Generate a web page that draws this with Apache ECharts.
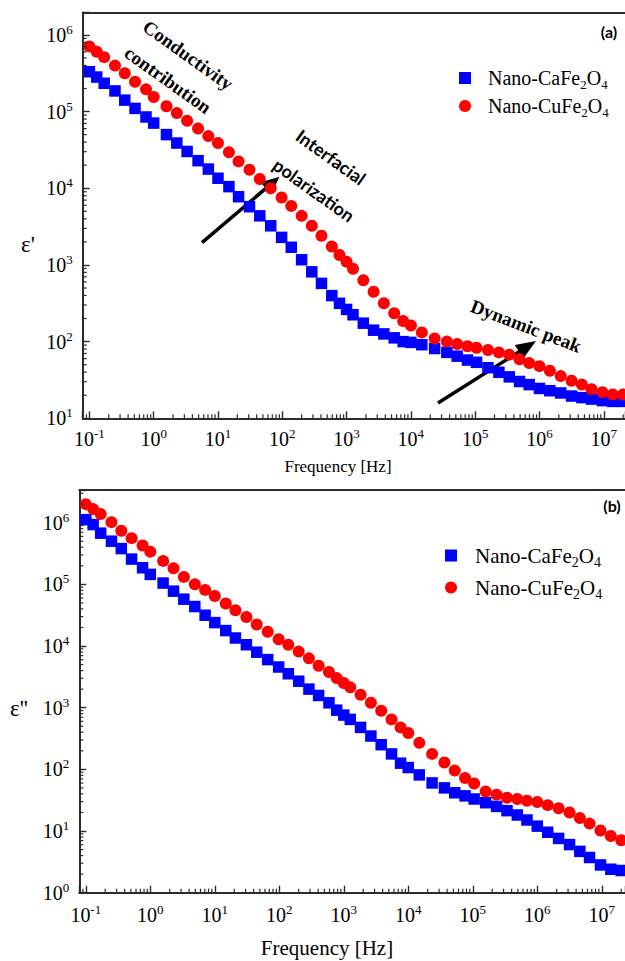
<!DOCTYPE html>
<html>
<head>
<meta charset="utf-8">
<script src="https://cdn.jsdelivr.net/npm/echarts@6/dist/echarts.min.js"></script>
<style>
  html, body { margin: 0; padding: 0; background: #fff; }
  #chart { width: 625px; height: 961px; }
</style>
</head>
<body>
<div id="chart"></div>
<script>
// Measurement frequencies (Hz)
const frequency = [0.1, 0.13, 0.17, 0.25, 0.355, 0.513, 0.759, 1, 1.58, 2.29, 3.31, 4.9, 7.08, 10,
  14.8, 20.9, 30.9, 44.7, 66.1, 97.7, 138, 200, 288, 407, 589, 776, 1000, 1260,
  1820, 2630, 3800, 5500, 7590, 10000, 14800, 23400, 36300, 52500, 75900, 105000,
  158000, 234000, 339000, 490000, 692000, 1000000, 1450000, 2140000, 3160000, 4570000,
  6460000, 9550000, 13800000, 20000000];

// Real permittivity ε'
const realCaFe2O4 = [331000, 282000, 234000, 186000, 141000, 110000, 85100, 70800, 50100, 38900,
  30200, 22900, 17800, 13500, 10500, 7760, 5750, 4370, 3240, 2290, 1700, 1170, 813, 575, 398,
  316, 263, 224, 174, 141, 126, 112, 100, 97.7, 91.2, 81.3, 72.4, 64.6, 57.5, 53.7, 45.7, 39.8,
  34.7, 30.2, 27.5, 24.5, 22.9, 21.4, 19.5, 18.6, 17.8, 17.0, 16.6, 16.6];
const realCuFe2O4 = [708000, 603000, 513000, 398000, 316000, 245000, 195000, 155000, 117500, 95500,
  75900, 60300, 47900, 38900, 29500, 22400, 17400, 13200, 10000, 7590, 5890, 4370, 3240, 2400,
  1740, 1350, 1100, 891, 631, 447, 316, 234, 186, 162, 132, 110, 100, 93.3, 87.1, 83.2, 77.6,
  72.4, 67.6, 58.9, 52.5, 47.9, 41.7, 35.5, 30.9, 27.5, 24.0, 21.9, 20.4, 20.4];

// Dielectric loss ε''
const lossCaFe2O4 = [1120000, 933000, 676000, 501000, 380000, 257000, 186000, 145000, 105000, 77600,
  57500, 43700, 31600, 24000, 17800, 13500, 10500, 7940, 6030, 4570, 3550, 2690, 2000, 1580,
  1200, 912, 759, 646, 479, 347, 251, 178, 126, 107, 81.3, 60.3, 50.1, 41.7, 37.2, 33.1, 28.8,
  25.1, 21.4, 18.2, 15.1, 12.0, 9.55, 7.59, 6.03, 4.68, 3.72, 2.82, 2.40, 2.29];
const lossCuFe2O4 = [2000000, 1660000, 1380000, 1020000, 741000, 562000, 427000, 339000, 240000, 182000,
  132000, 100000, 81300, 64600, 49000, 38000, 29500, 22400, 17000, 12900, 10500, 8130, 6310,
  4790, 3800, 3020, 2510, 2140, 1620, 1200, 891, 646, 479, 389, 269, 178, 129, 95.5, 72.4, 58.9,
  43.7, 38.9, 34.7, 33.1, 30.9, 29.5, 26.3, 23.4, 20.0, 16.2, 13.2, 10.2, 8.32, 7.08];

// Decade exponents that carry tick labels
const xDecades = [-1, 0, 1, 2, 3, 4, 5, 6, 7];
const yDecadesA = [1, 2, 3, 4, 5, 6];
const yDecadesB = [0, 1, 2, 3, 4, 5, 6];

const seriesNames = ['Nano-CaFe2O4', 'Nano-CuFe2O4'];

const SERIF = 'Liberation Serif';
const SANS = 'Lato';
const AXIS_COLOR = '#2b2b2b';

const ranges = {
  a: { xMin: 0.0787, xMax: 2.14e7, yMin: 10, yMax: 1.96e6 },
  b: { xMin: 0.0793, xMax: 2.29e7, yMin: 1, yMax: 3.39e6 }
};

function decadeFormatter(decades) {
  return function (value) {
    const lg = Math.log10(value);
    const e = Math.round(lg);
    if (Math.abs(lg - e) > 1e-6 || decades.indexOf(e) < 0) return '';
    return '{b|10}{e|' + e + '}';
  };
}

const tickRich = {
  b: { fontFamily: SERIF, fontSize: 20, lineHeight: 24, color: '#000' },
  e: { fontFamily: SERIF, fontSize: 13, lineHeight: 12, verticalAlign: 'top', color: '#000' }
};

function chemLabel(name) {
  return name.replace(/(\D+)(\d)(\D+)(\d)/, '{t|$1}{s|$2}{t|$3}{s|$4}');
}

function xAxes(grid, r, decades, margin) {
  return [{
    gridIndex: grid, type: 'log', logBase: 10, min: r.xMin, max: r.xMax, position: 'bottom',
    axisLine: { show: true, lineStyle: { color: AXIS_COLOR, width: 2 } },
    axisTick: { show: true, inside: true, length: 7, lineStyle: { color: AXIS_COLOR, width: 1.4 } },
    axisLabel: { formatter: decadeFormatter(decades), margin: margin, rich: tickRich, hideOverlap: false },
    splitLine: { show: false }, minorTick: { show: false }
  }, {
    gridIndex: grid, type: 'log', logBase: 10, min: r.xMin, max: r.xMax, position: 'top',
    axisLine: { show: true, lineStyle: { color: AXIS_COLOR, width: 2 } },
    axisTick: { show: false }, axisLabel: { show: false }, splitLine: { show: false }
  }];
}

function yAxis(grid, r, decades) {
  return {
    gridIndex: grid, type: 'log', logBase: 10, min: r.yMin, max: r.yMax, position: 'left',
    axisLine: { show: true, lineStyle: { color: AXIS_COLOR, width: 2 } },
    axisTick: { show: true, inside: true, length: 7, lineStyle: { color: AXIS_COLOR, width: 1.4 } },
    axisLabel: { formatter: decadeFormatter(decades), margin: 10, rich: tickRich, hideOverlap: false },
    splitLine: { show: false }
  };
}

// Values 2..9 × 10^k inside [lo, hi] for the short log ticks
function minorValues(lo, hi) {
  const out = [];
  for (let d = Math.floor(Math.log10(lo)); d <= Math.ceil(Math.log10(hi)); d++) {
    for (let k = 2; k <= 9; k++) {
      const v = k * Math.pow(10, d);
      if (v > lo && v < hi) out.push(v);
    }
  }
  return out;
}

function minorTickSeries(xIdx, yIdx, r) {
  const xs = minorValues(r.xMin, r.xMax).map(v => [v, r.yMin, 0]);
  const ys = minorValues(r.yMin, r.yMax).map(v => [r.xMin, v, 1]);
  return {
    type: 'custom', xAxisIndex: xIdx, yAxisIndex: yIdx, silent: true, z: 5, clip: false,
    data: xs.concat(ys),
    renderItem: function (params, api) {
      const p = api.coord([api.value(0), api.value(1)]);
      const vertical = api.value(2) === 0;
      return {
        type: 'line',
        shape: vertical
          ? { x1: p[0], y1: p[1], x2: p[0], y2: p[1] - 4 }
          : { x1: p[0], y1: p[1], x2: p[0] + 4, y2: p[1] },
        style: { stroke: AXIS_COLOR, lineWidth: 1.2 }
      };
    }
  };
}

function scatter(name, xIdx, yIdx, ys, shape, size, color) {
  return {
    name: name, type: 'scatter', xAxisIndex: xIdx, yAxisIndex: yIdx,
    symbol: shape, symbolSize: size,
    itemStyle: { color: color, opacity: 1 },
    data: frequency.map((f, i) => [f, ys[i]]),
    z: 3
  };
}

function arrow(x1, y1, x2, y2, headLen, headHalf) {
  const dx = x2 - x1, dy = y2 - y1;
  const len = Math.sqrt(dx * dx + dy * dy);
  const ux = dx / len, uy = dy / len;
  const bx = x2 - ux * headLen, by = y2 - uy * headLen;
  const nx = -uy, ny = ux;
  return {
    type: 'group',
    children: [
      { type: 'line', shape: { x1: x1, y1: y1, x2: bx + ux * 2, y2: by + uy * 2 },
        style: { stroke: '#000', lineWidth: 3.5 } },
      { type: 'polygon', shape: { points: [[x2, y2], [bx + nx * headHalf, by + ny * headHalf], [bx - nx * headHalf, by - ny * headHalf]] },
        style: { fill: '#000' } }
    ]
  };
}

function label(text, x, y, family, size, weight, deg) {
  return {
    type: 'text', x: x, y: y, rotation: -(deg || 0) * Math.PI / 180,
    style: {
      text: text, fontFamily: family, fontSize: size, fontWeight: weight,
      fill: '#000', textAlign: 'center', textVerticalAlign: 'middle'
    }
  };
}

function legendFor(left, top, gap, fontSize, pad) {
  return {
    orient: 'vertical', left: left, top: top, itemWidth: 12, itemHeight: 12, itemGap: gap,
    data: seriesNames, formatter: chemLabel, selectedMode: false,
    textStyle: {
      padding: [0, 0, 0, pad],
      rich: {
        t: { fontFamily: SERIF, fontSize: fontSize, lineHeight: fontSize + 6, color: '#000' },
        s: { fontFamily: SERIF, fontSize: Math.round(fontSize * 0.65), lineHeight: 12, verticalAlign: 'bottom', color: '#000' }
      }
    }
  };
}

const chart = echarts.init(document.getElementById('chart'), null, { renderer: 'svg' });

chart.setOption({
  animation: false,
  backgroundColor: '#fff',
  grid: [
    { left: 82.7, top: 12.5, width: 542.3, height: 405.8, outerBoundsMode: 'none', containLabel: false },
    { left: 79.3, top: 490, width: 545.7, height: 402.7, outerBoundsMode: 'none', containLabel: false }
  ],
  xAxis: xAxes(0, ranges.a, xDecades, 9).concat(xAxes(1, ranges.b, xDecades, 10)),
  yAxis: [yAxis(0, ranges.a, yDecadesA), yAxis(1, ranges.b, yDecadesB)],
  legend: [legendFor(454, 63, 5, 20, 12), legendFor(440, 540, 8, 21, 13)],
  series: [
    scatter(seriesNames[0], 0, 0, realCaFe2O4, 'rect', 11.5, '#0000ff'),
    scatter(seriesNames[1], 0, 0, realCuFe2O4, 'circle', 12, '#ff0000'),
    scatter(seriesNames[0], 2, 1, lossCaFe2O4, 'rect', 11.5, '#0000ff'),
    scatter(seriesNames[1], 2, 1, lossCuFe2O4, 'circle', 12, '#ff0000'),
    minorTickSeries(0, 0, ranges.a),
    minorTickSeries(2, 1, ranges.b)
  ],
  graphic: [
    label('Conductivity', 188, 55, SERIF, 19, 'bold', 35.5),
    label('contribution', 168, 80, SERIF, 19, 'bold', 35.5),
    label('Interfacial', 331, 157, SANS, 18, 'bold', 35.5),
    label('polarization', 314, 190, SANS, 18, 'bold', 35.5),
    label('Dynamic peak', 526, 326, SERIF, 19, 'bold', 21),
    label('(a)', 609, 31, SANS, 16, 'bold', 0),
    label('(b)', 612, 505, SANS, 16, 'bold', 0),
    label("ε'", 28, 244, SERIF, 23, 'normal', 0),
    label("ε''", 19, 708, SERIF, 23, 'normal', 0),
    label('Frequency [Hz]', 338, 466, SERIF, 17, 'normal', 0),
    label('Frequency [Hz]', 327, 948, SERIF, 21, 'normal', 0),
    arrow(202, 242.7, 279.5, 176.7, 18, 8),
    arrow(438, 403, 536, 341, 20, 8)
  ]
});
</script>
</body>
</html>
